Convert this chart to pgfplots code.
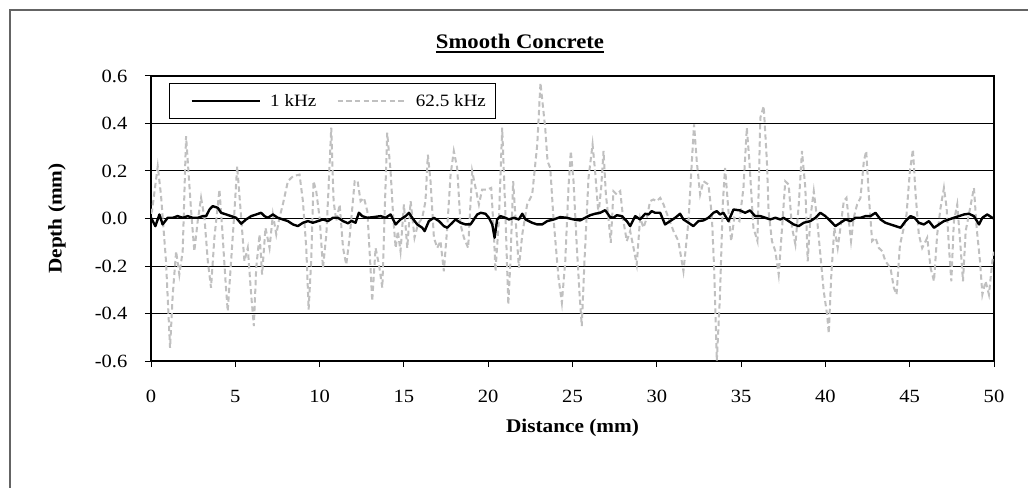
\documentclass[border=0pt]{standalone}
\usepackage{pgfplots}
\pgfplotsset{compat=1.18}
\usepackage{fontspec}
\setmainfont{Liberation Serif}[FakeStretch=1.1]
\definecolor{lgray}{RGB}{192,192,192}
\definecolor{bordergray}{RGB}{100,100,100}
\newcommand\ulx[1]{\setbox0\hbox{#1}\rlap{\rule[-3.6pt]{\wd0}{1.4pt}}\box0}
\begin{document}
\begin{tikzpicture}
\useasboundingbox (0,0) rectangle (771pt,365.25pt);
\fill[white] (0,0) rectangle (771pt,365.25pt);
\draw[bordergray, line width=1.1pt] (7.5pt,-5pt) -- (7.5pt,357.75pt) -- (780pt,357.75pt);
\begin{axis}[
  at={(113.25pt,94.5pt)}, anchor=south west,
  scale only axis, width=632.25pt, height=213.75pt,
  xmin=0, xmax=50, ymin=-0.6, ymax=0.6,
  xtick={0,5,10,15,20,25,30,35,40,45,50},
  ytick={-0.6,-0.4,-0.2,0,0.2,0.4,0.6},
  ymajorgrids, major grid style={black, line width=0.75pt},
  axis line style={line width=1.5pt},
  tick align=outside, tick pos=left,
  major tick length=4.5pt, tick style={black, line width=0.75pt},
  ticklabel style={font=\fontsize{14}{16}\selectfont},
  /pgf/number format/assume math mode=true,
  yticklabel style={xshift=-9.75pt, /pgf/number format/.cd, fixed, fixed zerofill, precision=1},
  xticklabel style={yshift=-14pt},
  title={\fontsize{15.5}{18}\selectfont\bfseries\ulx{Smooth Concrete}},
  title style={at={(0.4377,1.070)}, anchor=base, inner sep=0pt},
  xlabel={\fontsize{14.5}{17}\selectfont\bfseries Distance (mm)},
  xlabel style={at={(0.5,-0.2526)}, anchor=base, inner sep=0pt},
  ylabel={\fontsize{14.5}{17}\selectfont\bfseries Depth (mm)},
  ylabel style={at={(-0.1115,0.5)}, anchor=center, inner sep=0pt},
  legend columns=2,
  reverse legend,
  legend image code/.code={\path (-8.25pt,0pt); \draw[#1] (0pt,0pt) -- (51pt,0pt);},
  legend style={at={(0.02135,0.9754)}, anchor=north west, draw=black, line width=0.75pt,
    font=\fontsize{13}{15}\selectfont, inner xsep=7.5pt, inner ysep=8pt,
    column sep=7pt, nodes={inner sep=0pt}},
]
\addplot[lgray, line width=1.5pt, dash pattern=on 4pt off 2.5pt] table {
0.00 0.020
0.06 0.031
0.40 0.220
0.59 0.101
0.89 -0.180
1.13 -0.545
1.29 -0.320
1.49 -0.138
1.68 -0.236
1.88 -0.138
2.08 0.347
2.38 0.031
2.57 -0.138
2.77 -0.011
2.97 0.087
3.17 0.003
3.37 -0.180
3.56 -0.292
3.76 -0.081
4.06 0.122
4.22 -0.039
4.42 -0.264
4.55 -0.390
4.75 -0.180
4.95 0.031
5.11 0.220
5.35 0.003
5.54 -0.180
5.74 -0.124
5.94 -0.320
6.10 -0.453
6.24 -0.208
6.44 -0.067
6.59 -0.236
6.79 -0.039
7.03 -0.124
7.23 0.017
7.43 -0.067
7.62 0.003
7.82 0.059
8.12 0.157
8.42 0.178
8.81 0.185
9.01 0.073
9.21 -0.124
9.35 -0.383
9.50 -0.180
9.64 0.157
9.80 0.115
10.00 0.003
10.20 -0.208
10.40 -0.067
10.55 0.157
10.69 0.382
10.83 0.073
10.99 -0.011
11.19 0.059
11.39 -0.124
11.58 -0.194
11.78 -0.081
12.08 0.157
12.25 0.160
12.43 0.073
12.63 0.087
12.83 0.031
13.02 -0.208
13.12 -0.348
13.32 -0.124
13.52 -0.194
13.72 -0.292
13.85 0.003
14.01 0.361
14.21 0.199
14.37 0.003
14.51 -0.124
14.64 -0.053
14.80 -0.138
15.00 0.059
15.20 -0.124
15.40 0.073
15.63 -0.081
15.83 -0.025
16.09 0.003
16.28 0.073
16.42 0.269
16.58 0.157
16.78 -0.081
16.98 -0.124
17.17 -0.095
17.37 -0.222
17.57 -0.039
17.77 0.185
17.96 0.284
18.16 0.213
18.36 -0.025
18.56 -0.081
18.81 -0.124
19.05 0.199
19.25 0.129
19.45 0.059
19.64 0.122
19.94 0.122
20.18 0.129
20.34 -0.067
20.43 -0.222
20.63 -0.011
20.83 0.382
21.03 0.003
21.19 -0.362
21.32 -0.180
21.48 0.157
21.62 0.003
21.82 -0.208
22.02 -0.067
22.31 0.059
22.61 0.101
22.91 0.312
23.10 0.571
23.38 0.382
23.52 0.241
23.68 0.213
23.87 0.003
24.17 -0.250
24.37 -0.355
24.57 -0.180
24.76 0.129
24.90 0.284
25.06 0.157
25.26 -0.124
25.42 -0.320
25.55 -0.453
25.71 -0.180
25.95 0.171
26.19 0.312
26.34 0.199
26.54 0.017
26.70 0.129
26.84 0.284
26.98 0.101
27.13 0.003
27.27 -0.102
27.43 0.115
27.63 0.101
27.83 0.115
28.02 -0.011
28.22 -0.095
28.42 -0.053
28.62 -0.124
28.81 -0.194
29.01 0.003
29.21 -0.039
29.41 0.003
29.60 0.073
29.80 0.080
30.00 0.073
30.20 0.087
30.40 0.059
30.69 0.003
30.99 -0.053
31.28 -0.095
31.58 -0.222
31.88 -0.011
32.08 0.241
32.21 0.396
32.37 0.241
32.57 0.101
32.77 0.157
33.06 0.143
33.26 0.017
33.40 -0.208
33.56 -0.598
33.75 -0.320
33.91 0.059
34.05 0.213
34.25 0.031
34.41 -0.095
34.60 0.003
34.90 -0.011
35.14 0.129
35.34 0.382
35.49 0.241
35.73 -0.039
35.97 -0.095
36.14 0.424
36.34 0.473
36.53 0.241
36.63 0.031
36.83 -0.095
37.03 -0.138
37.23 -0.236
37.43 -0.039
37.62 0.157
37.82 0.143
38.02 -0.039
38.22 -0.109
38.42 0.059
38.61 0.284
38.81 0.129
38.95 -0.180
39.11 0.003
39.31 0.115
39.50 0.003
39.70 -0.152
39.90 -0.306
40.10 -0.404
40.20 -0.484
40.34 -0.250
40.53 -0.039
40.73 -0.124
40.89 -0.039
41.09 0.073
41.25 0.087
41.39 -0.011
41.52 -0.095
41.68 0.003
41.88 0.059
42.08 0.087
42.28 0.241
42.42 0.284
42.57 0.101
42.77 -0.095
42.97 -0.081
43.17 -0.124
43.37 -0.138
43.56 -0.180
43.86 -0.208
44.06 -0.292
44.22 -0.320
44.42 -0.112
44.65 -0.039
44.81 0.017
45.01 0.199
45.19 0.291
45.35 0.101
45.54 -0.067
45.74 -0.124
46.04 -0.081
46.24 -0.208
46.44 -0.264
46.63 -0.067
46.83 0.045
47.03 0.129
47.19 0.045
47.33 -0.124
47.47 -0.264
47.62 -0.011
47.82 0.059
48.02 -0.124
48.16 -0.264
48.32 -0.053
48.51 0.017
48.81 0.129
48.97 -0.039
49.17 -0.180
49.31 -0.320
49.50 -0.264
49.70 -0.320
49.90 -0.180
50.00 -0.140
};
\addlegendentry{62.5 kHz}
\addplot[black, line width=1.8pt, line join=round] table {
0.00 0.003
0.26 -0.032
0.50 0.017
0.69 -0.025
0.99 0.003
1.29 0.003
1.58 0.010
1.88 0.003
2.18 0.010
2.48 0.003
2.77 0.003
3.07 0.010
3.27 0.010
3.47 0.038
3.66 0.052
3.96 0.045
4.16 0.024
4.46 0.017
4.75 0.010
5.05 0.003
5.35 -0.022
5.64 -0.004
5.94 0.010
6.24 0.017
6.53 0.024
6.73 0.010
6.93 0.003
7.23 0.017
7.52 0.003
7.82 -0.004
8.12 -0.011
8.42 -0.025
8.71 -0.032
9.01 -0.018
9.31 -0.011
9.60 -0.018
9.90 -0.011
10.20 -0.004
10.50 -0.011
10.79 0.003
11.09 0.003
11.39 -0.011
11.68 -0.020
11.90 -0.010
12.13 -0.018
12.33 0.024
12.53 0.010
12.83 0.003
13.22 0.006
13.62 0.010
13.91 0.003
14.21 0.017
14.51 -0.025
14.80 -0.004
15.10 0.010
15.30 0.024
15.49 0.003
15.79 -0.025
16.09 -0.039
16.23 -0.053
16.48 -0.011
16.78 0.003
17.08 -0.011
17.37 -0.032
17.57 -0.039
17.87 -0.018
18.06 -0.004
18.36 -0.018
18.66 -0.025
18.95 -0.025
19.15 -0.004
19.35 0.017
19.55 0.024
19.84 0.020
20.04 0.003
20.24 -0.025
20.38 -0.081
20.53 -0.004
20.73 0.010
21.03 0.003
21.23 -0.004
21.52 0.003
21.82 -0.004
22.02 0.020
22.21 -0.004
22.41 -0.011
22.61 -0.018
22.91 -0.025
23.20 -0.025
23.50 -0.011
23.89 -0.004
24.27 0.006
24.66 0.003
25.06 -0.004
25.45 -0.008
25.75 0.003
26.05 0.014
26.34 0.020
26.64 0.024
26.94 0.035
27.23 0.006
27.43 0.003
27.63 0.014
27.92 0.010
28.22 -0.011
28.42 -0.032
28.72 0.010
29.01 -0.004
29.31 0.020
29.51 0.017
29.70 0.031
29.90 0.024
30.20 0.024
30.49 -0.025
30.79 -0.011
31.09 0.003
31.38 0.020
31.58 -0.004
31.88 -0.018
32.17 -0.032
32.47 -0.011
32.77 -0.008
33.06 0.003
33.36 0.024
33.56 0.031
33.75 0.017
33.95 0.024
34.25 -0.011
34.55 0.038
34.94 0.034
35.24 0.024
35.53 0.034
35.83 0.010
36.14 0.010
36.44 0.003
36.73 -0.004
37.03 0.003
37.33 -0.004
37.52 0.003
37.82 -0.011
38.12 -0.025
38.42 -0.032
38.71 -0.018
39.11 -0.011
39.41 0.003
39.70 0.024
40.00 0.010
40.30 -0.011
40.59 -0.032
40.89 -0.018
41.19 -0.004
41.49 -0.011
41.78 0.003
42.08 0.003
42.38 0.010
42.67 0.010
42.97 0.024
43.27 -0.004
43.56 -0.018
43.86 -0.025
44.16 -0.032
44.46 -0.039
44.75 -0.011
45.05 0.010
45.29 0.003
45.54 -0.018
45.84 -0.025
46.14 -0.011
46.44 -0.039
46.73 -0.025
47.03 -0.011
47.33 -0.004
47.62 0.003
47.92 0.010
48.22 0.017
48.51 0.020
48.81 0.010
49.11 -0.025
49.31 0.003
49.60 0.017
49.90 0.003
50.00 0.000
};
\addlegendentry{1 kHz}
\end{axis}
\end{tikzpicture}
\end{document}
